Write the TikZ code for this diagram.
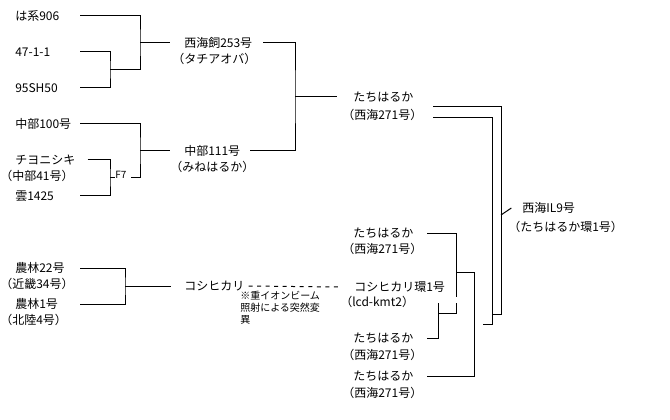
\documentclass[tikz,border=0pt]{standalone}
\usepackage{fontspec}
\newfontfamily\jpfont{Noto Sans CJK JP}
\usetikzlibrary{positioning}
\tikzset{
  cv/.style={font=\jpfont\fontsize{9}{10}\selectfont, inner sep=0pt, anchor=west},
  small/.style={font=\jpfont\fontsize{7.5}{9}\selectfont, inner sep=0pt},
  link/.style={line width=0.75pt},
}

\begin{document}
\begin{tikzpicture}[x=0.75pt, y=-0.75pt]
	\useasboundingbox (0,0) rectangle (670,420);
	% parents, left column
	\node[cv] (ha906) at (15,16) {は系906};
	\node[cv] (k47) at (15,52) {47-1-1};
	\node[cv] (sh95) at (15,88) {95SH50};
	\node[cv] (chubu100) at (15,124) {中部100号};
	\node[cv] (chiyo) at (15,160) {チヨニシキ};
	\node[cv] (chiyob) at (0,176) {（中部41号）};
	\node[cv] (un1425) at (15,196) {雲1425};
	\node[cv] (norin22) at (15,268) {農林22号};
	\node[cv] (norin22b) at (0,284) {（近畿34号）};
	\node[cv] (norin1) at (15,304) {農林1号};
	\node[cv] (norin1b) at (0,320) {（北陸4号）};
	% second column
	\node[cv] (saikai253) at (184,43) {西海飼253号};
	\node[cv] (saikai253b) at (172,59) {（タチアオバ）};
	\node[cv] (chubu111) at (184,151) {中部111号};
	\node[cv] (chubu111b) at (170,167) {（みねはるか）};
	\node[cv] (koshi) at (184,286) {コシヒカリ};
	% third column
	\node[cv] (tachi) at (353,97) {たちはるか};
	\node[cv] (tachib) at (342,115) {（西海271号）};
	\node[cv] (tachiA) at (353,233) {たちはるか};
	\node[cv] (tachiAb) at (342,249) {（西海271号）};
	\node[cv] (kan1) at (354,287) {コシヒカリ環1号};
	\node[cv] (kan1b) at (340,302) {（lcd-kmt2）};
	\node[cv] (tachiB) at (353,338) {たちはるか};
	\node[cv] (tachiBb) at (342,355) {（西海271号）};
	\node[cv] (tachiC) at (353,376) {たちはるか};
	\node[cv] (tachiCb) at (342,393) {（西海271号）};
	% result
	\node[cv] (il9) at (522,208) {西海IL9号};
	\node[cv] (il9b) at (508,227) {（たちはるか環1号）};
	% notes
	\node[small, anchor=west] (f7) at (115,175) {F7};
	\node[small, anchor=north west, align=left] (ion) at (240,291) {※重イオンビーム\\照射による突然変\\異};

	% junctions
	\coordinate (L) at (80,0);
	\coordinate (R) at (427,0);
	\coordinate (jA) at (110,70);
	\coordinate (jB) at (140,43);
	\coordinate (jC) at (110,178);
	\coordinate (jD) at (140,151);
	\coordinate (jE) at (295,97);
	\coordinate (jF) at (125,286);
	\coordinate (kanE) at (438,303);
	\coordinate (jG) at (438,313);
	\coordinate (jGup) at (456,303);
	\coordinate (jH) at (456,272);
	\coordinate (jHlow) at (456,297);
	\coordinate (jI) at (474,272);
	\coordinate (outA) at (433,107);
	\coordinate (inA) at (433,118);
	\coordinate (outB) at (501,314);
	\coordinate (inB) at (492,324);
	\coordinate (stub) at (483,324);
	\coordinate (jJ) at (501,215);

	% 西海飼253号
	\draw[link] (k47 -| L) -| (jA) |- (sh95 -| L);
	\draw[link] (ha906 -| L) -| (jB) |- (jA);
	\draw[link] (jB) -- ([xshift=-10.5pt]saikai253.west);
	% 中部111号
	\draw[link] ([xshift=9pt]chiyo.east) -| (jC) |- (un1425 -| L);
	\draw[link] (jC) -- (f7.west |- jC);
	\draw[link] (chubu100 -| L) -| (jD) |- ([xshift=3pt]f7.east |- jC);
	\draw[link] (jD) -- ([xshift=-10.5pt]chubu111.west);
	% たちはるか
	\draw[link] ([xshift=8pt]saikai253.east) -| (jE) |- ([xshift=7pt]chubu111.east);
	\draw[link] (jE) -- ([xshift=-12pt]tachi.west);
	% コシヒカリ
	\draw[link] (norin22 -| L) -| (jF) |- (norin1 -| L);
	\draw[link] (jF) -- ([xshift=-9.75pt]koshi.west);
	\draw[link, dash pattern=on 3pt off 3.4pt] ([xshift=3pt]koshi.east) -- ([xshift=-12pt]kan1.west);
	% backcrosses
	\draw[link] (kanE) |- (tachiB -| R);
	\draw[link] (jG) -| (jGup);
	\draw[link] (tachiA -| R) -| (jHlow);
	\draw[link] (jH) -| (jI) |- (tachiC -| R);
	% 西海IL9号
	\draw[link] (outA) -| (outB) -- (inB |- outB);
	\draw[link] (inA) -| (inB) -- (stub);
	\draw[link] (jJ) -- ([xshift=-8pt]il9.west);
\end{tikzpicture}
\end{document}
